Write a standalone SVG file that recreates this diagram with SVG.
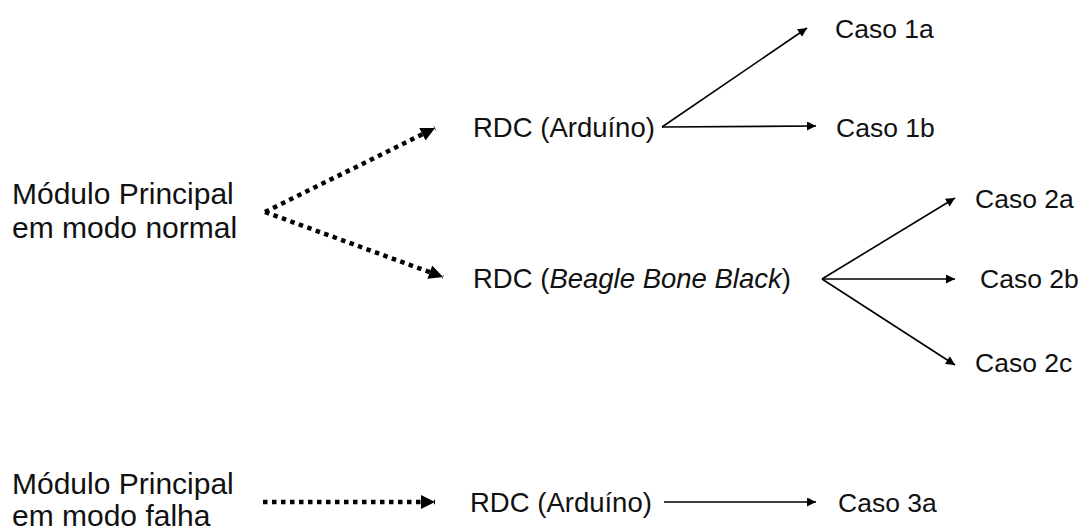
<svg xmlns="http://www.w3.org/2000/svg" width="1083" height="530" viewBox="0 0 1083 530">
  <defs>
    <marker id="big" viewBox="0 0 10 10" refX="10" refY="5" markerWidth="16" markerHeight="14" markerUnits="userSpaceOnUse" orient="auto">
      <path d="M0,0 L10,5 L0,10 Z" fill="#000"/>
    </marker>
    <marker id="small" viewBox="0 0 10 10" refX="10" refY="5" markerWidth="12" markerHeight="9" markerUnits="userSpaceOnUse" orient="auto">
      <path d="M0,0 L10,5 L0,10 Z" fill="#000"/>
    </marker>
  </defs>
  <style>
    text { font-family: "Liberation Sans", Arial, sans-serif; font-size: 27.5px; fill: #111; }
    .lbl { font-size: 30px; }
    .caso { font-size: 26.5px; }
    .dot { stroke: #000; stroke-width: 4.5; stroke-dasharray: 4.5 4.5; fill: none; marker-end: url(#big); }
    .solid { stroke: #000; stroke-width: 1.6; fill: none; marker-end: url(#small); }
  </style>
  <rect width="1083" height="530" fill="#fff"/>

  <g id="mp-normal">
    <text class="lbl" x="12" y="204">Módulo Principal</text>
    <text class="lbl" x="12" y="238">em modo normal</text>
  </g>
  <g id="rdc-arduino-1">
    <text x="473" y="137">RDC (Arduíno)</text>
  </g>
  <g id="rdc-bbb">
    <text x="473" y="288">RDC (<tspan font-style="italic">Beagle Bone Black</tspan>)</text>
  </g>
  <g id="caso1a"><text class="caso" x="835" y="38">Caso 1a</text></g>
  <g id="caso1b"><text class="caso" x="836" y="137">Caso 1b</text></g>
  <g id="caso2a"><text class="caso" x="975" y="208">Caso 2a</text></g>
  <g id="caso2b"><text class="caso" x="980" y="288">Caso 2b</text></g>
  <g id="caso2c"><text class="caso" x="975" y="372">Caso 2c</text></g>

  <g id="mp-falha">
    <text class="lbl" x="12" y="494">Módulo Principal</text>
    <text class="lbl" x="12" y="526">em modo falha</text>
  </g>
  <g id="rdc-arduino-2"><text x="470" y="512">RDC (Arduíno)</text></g>
  <g id="caso3a"><text class="caso" x="838" y="512">Caso 3a</text></g>

  <g id="connectors">
    <line class="dot" x1="265" y1="212" x2="435" y2="128"/>
    <line class="dot" x1="265" y1="212" x2="443" y2="277"/>
    <line class="dot" x1="263" y1="502" x2="435" y2="502"/>
    <line class="solid" x1="662" y1="127" x2="807" y2="28"/>
    <line class="solid" x1="662" y1="127" x2="816" y2="126"/>
    <line class="solid" x1="822" y1="279" x2="955" y2="198"/>
    <line class="solid" x1="822" y1="279" x2="955" y2="279"/>
    <line class="solid" x1="822" y1="279" x2="955" y2="365"/>
    <line class="solid" x1="664" y1="502" x2="816" y2="502"/>
  </g>
</svg>
